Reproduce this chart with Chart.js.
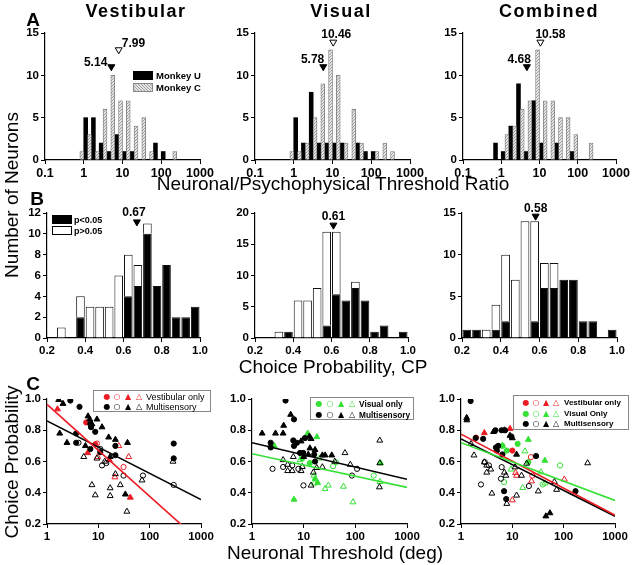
<!DOCTYPE html>
<html>
<head>
<meta charset="utf-8">
<script src="https://cdn.jsdelivr.net/npm/chart.js@4.4.1/dist/chart.umd.min.js"></script>
<style>
  body { margin: 0; background: #fff; }
  #fig { position: relative; width: 640px; height: 565px; overflow: hidden; font-family: "Liberation Sans", Arial, sans-serif; color: #000; }
  #fig canvas { position: absolute; }
  .tx { position: absolute; white-space: nowrap; transform: translate(-50%, -50%); line-height: 1; }
  .lt { position: absolute; white-space: nowrap; transform: translateY(-50%); line-height: 1; }
  .sw { position: absolute; box-sizing: border-box; }
</style>
</head>
<body>
<div id="fig"></div>
<script>
// ---- A: neuronal / psychophysical threshold ratio ----
const ratioBins = [0.63, 1, 1.58, 2.51, 3.98, 6.31, 10, 15.8, 25.1, 39.8, 63.1, 100, 158, 251, 398];
const ratioTicks = [0.1, 1, 10, 100, 1000];
const countTicksA = [0, 5, 10, 15];
const vestMonkeyU = [0, 5, 5, 2, 1, 3, 1, 1, 0, 0, 2, 1, 0, 0, 0];
const vestMonkeyC = [0, 1, 3, 1, 6, 10, 7, 7, 4, 5, 1, 0, 0, 1, 0];
const visMonkeyU  = [0, 5, 2, 8, 2, 2, 2, 2, 0, 2, 1, 1, 0, 0, 0];
const visMonkeyC  = [0, 1, 1, 2, 5, 9, 13, 10, 2, 6, 2, 0, 1, 2, 1];
const combMonkeyU = [2, 1, 4, 9, 1, 7, 2, 0, 2, 0, 1, 0, 0, 0, 0];
const combMonkeyC = [0, 0, 3, 4, 6, 7, 13, 7, 7, 5, 5, 3, 0, 2, 0];
const medianU = [5.14, 5.78, 4.68];
const medianC = [7.99, 10.46, 10.58];

// ---- B: choice probability ----
const cpBins = [0.225, 0.275, 0.325, 0.375, 0.425, 0.475, 0.525, 0.575, 0.625, 0.675, 0.725, 0.775, 0.825, 0.875, 0.925, 0.975];
const cpTicks = [0.2, 0.4, 0.6, 0.8, 1.0];
const vestSig    = [0, 0, 0, 2, 0, 0, 0, 0, 4, 5, 10, 5, 7, 2, 2, 3];
const vestNonSig = [0, 1, 0, 2, 3, 3, 3, 6, 4, 2, 1, 0, 0, 0, 0, 0];
const visSig     = [0, 0, 0, 1, 0, 0, 0, 2, 7, 6, 8, 6, 1, 2, 0, 1];
const visNonSig  = [0, 0, 1, 0, 6, 6, 8, 15, 10, 0, 1, 0, 0, 0, 0, 0];
const combSig    = [1, 1, 0, 1, 2, 0, 0, 2, 6, 6, 7, 7, 2, 2, 0, 1];
const combNonSig = [0, 0, 1, 3, 8, 7, 14, 12, 3, 3, 0, 0, 0, 0, 0, 0];
const medianCP = [0.67, 0.61, 0.58];

// ---- C: CP vs neuronal threshold, [threshold deg, CP, marker] ----
// marker: fc filled circle, oc open circle, ft filled triangle, ot open triangle
const threshTicks = [1, 10, 100, 1000];
const probTicks = [0.2, 0.4, 0.6, 0.8, 1.0];
const c1Vestibular = [
  [5.8, 0.85, 'fc'], [8.7, 0.71, 'fc'], [9.4, 0.715, 'oc'], [31, 0.565, 'oc'],
  [1.6, 0.935, 'ft'], [6.2, 0.655, 'ft'], [16.4, 0.61, 'ft'], [42, 0.37, 'ft'],
  [9.7, 0.63, 'ot'], [25, 0.70, 'ot'], [39, 0.63, 'ot'], [21, 0.50, 'ot']
];
const c1Multi = [
  [2.85, 0.99, 'fc'], [4.3, 0.95, 'fc'], [3.7, 0.78, 'fc'], [3.7, 0.72, 'fc'], [7.0, 0.84, 'fc'], [7.2, 0.82, 'fc'],
  [8.7, 0.79, 'fc'], [7.0, 0.68, 'fc'], [10.9, 0.66, 'fc'], [21.5, 0.64, 'fc'], [21.5, 0.70, 'fc'], [294, 0.715, 'fc'], [294, 0.62, 'fc'],
  [1.69, 0.995, 'ft'], [2.05, 0.97, 'ft'], [1.77, 0.78, 'ft'], [2.45, 0.72, 'ft'], [6.3, 0.89, 'ft'], [6.8, 0.87, 'ft'],
  [9.4, 0.87, 'ft'], [7.5, 0.84, 'ft'], [11.8, 0.82, 'ft'], [15.9, 0.755, 'ft'], [21.5, 0.74, 'ft'], [37, 0.72, 'ft'],
  [33.6, 0.39, 'ft'], [17, 0.63, 'ft'], [5.6, 0.70, 'ft'],
  [4.1, 0.72, 'oc'], [10.9, 0.68, 'oc'], [14.3, 0.59, 'oc'], [11.8, 0.575, 'oc'], [31, 0.51, 'oc'], [74, 0.51, 'oc'], [294, 0.45, 'oc'],
  [5.2, 0.63, 'ot'], [7.5, 0.45, 'ot'], [8.7, 0.385, 'ot'], [17, 0.43, 'ot'], [17, 0.38, 'ot'], [21.5, 0.52, 'ot'],
  [26.8, 0.45, 'ot'], [36, 0.28, 'ot'], [71, 0.48, 'ot'], [285, 0.60, 'ot'], [9.4, 0.62, 'ot'], [13.3, 0.60, 'ot']
];
const c2Visual = [
  [9.4, 0.62, 'fc'], [13.2, 0.59, 'fc'], [42.5, 0.595, 'oc'], [227, 0.51, 'oc'], [37, 0.57, 'oc'],
  [2.7, 0.70, 'ft'], [12, 0.78, 'ft'], [18, 0.757, 'ft'], [6.5, 0.357, 'ft'], [16.6, 0.49, 'ft'], [18.7, 0.464, 'ft'], [309, 0.59, 'ft'],
  [8.5, 0.61, 'ot'], [16, 0.46, 'ot'], [26, 0.425, 'ot'], [30, 0.447, 'ot'], [59, 0.44, 'ot'], [90, 0.34, 'ot'],
  [15.9, 0.51, 'ot'], [20, 0.62, 'ot'], [300, 0.47, 'ot']
];
const c2Multi = [
  [4.46, 0.99, 'fc'], [2.3, 0.72, 'fc'], [2.3, 0.69, 'fc'], [6.5, 0.87, 'fc'], [6.3, 0.735, 'fc'], [6.5, 0.70, 'fc'],
  [10.6, 0.75, 'fc'], [8.5, 0.655, 'fc'], [9.8, 0.655, 'fc'], [16.6, 0.60, 'fc'], [16, 0.645, 'fc'], [7.4, 0.72, 'fc'],
  [1.57, 0.78, 'ft'], [2.85, 0.78, 'ft'], [4.1, 0.83, 'ft'], [4.0, 0.78, 'ft'], [5.6, 0.90, 'ft'], [8.9, 0.73, 'ft'],
  [12.9, 0.76, 'ft'], [13.9, 0.745, 'ft'], [13.2, 0.685, 'ft'], [16.6, 0.675, 'ft'], [23, 0.64, 'ft'], [26, 0.64, 'ft'],
  [35, 0.64, 'ft'], [12.3, 0.645, 'ft'], [10, 0.63, 'ft'],
  [2.5, 0.553, 'oc'], [4.0, 0.565, 'oc'], [6.0, 0.575, 'oc'], [7.9, 0.553, 'oc'], [9.9, 0.447, 'oc'], [86, 0.51, 'oc'], [108, 0.553, 'oc'],
  [4.0, 0.61, 'ot'], [4.9, 0.58, 'ot'], [4.9, 0.54, 'ot'], [6.0, 0.54, 'ot'], [6.3, 0.63, 'ot'], [8.9, 0.54, 'ot'],
  [9.4, 0.566, 'ot'], [13.9, 0.447, 'ot'], [15.4, 0.53, 'ot'], [17.9, 0.56, 'ot'], [23, 0.564, 'ot'], [40, 0.60, 'ot'],
  [63, 0.655, 'ot'], [80, 0.58, 'ot'], [297, 0.735, 'ot'], [297, 0.59, 'ot'], [293, 0.436, 'ot']
];
const c3Vestibular = [
  [1.96, 0.753, 'fc'], [10, 0.67, 'fc'], [23, 0.628, 'oc'], [24.5, 0.51, 'oc'],
  [2.85, 0.783, 'ft'], [9, 0.81, 'ft'],
  [10, 0.353, 'ot'], [11.6, 0.528, 'ot'], [12.1, 0.51, 'ot'], [23.7, 0.474, 'ot'], [103, 0.485, 'ot']
];
const c3Visual = [
  [7.8, 0.67, 'fc'], [12.7, 0.713, 'fc'], [20.5, 0.596, 'fc'], [6.4, 0.70, 'fc'],
  [6.9, 0.468, 'oc'], [39, 0.453, 'oc'], [85, 0.575, 'oc'],
  [6.4, 0.702, 'ft'], [20.5, 0.74, 'ft'], [43, 0.606, 'ft'],
  [9.4, 0.55, 'ot'], [15.9, 0.432, 'ot'], [17.6, 0.666, 'ot'], [36, 0.532, 'ot'], [43, 0.46, 'ot']
];
const c3Multi = [
  [1.54, 0.987, 'fc'], [1.93, 0.75, 'fc'], [2.7, 0.745, 'fc'], [4.7, 0.80, 'fc'], [6.2, 0.80, 'fc'], [7.2, 0.80, 'fc'],
  [4.8, 0.69, 'fc'], [5.3, 0.70, 'fc'], [6.9, 0.41, 'fc'], [7.6, 0.36, 'fc'], [9.6, 0.76, 'fc'], [29, 0.635, 'fc'],
  [170, 0.41, 'fc'], [6.4, 0.645, 'fc'], [5.0, 0.67, 'fc'],
  [1.29, 0.88, 'ft'], [1.3, 0.865, 'ft'], [4.3, 0.79, 'ft'], [9.0, 0.766, 'ft'], [10, 0.75, 'ft'], [12.1, 0.645, 'ft'],
  [45, 0.25, 'ft'], [54, 0.27, 'ft'], [7.0, 0.80, 'ft'],
  [2.45, 0.453, 'oc'], [2.9, 0.596, 'oc'], [3.5, 0.575, 'oc'], [6.2, 0.564, 'oc'], [6.0, 0.49, 'oc'], [21, 0.443, 'oc'],
  [1.57, 0.713, 'ot'], [1.79, 0.64, 'ot'], [2.85, 0.596, 'ot'], [3.17, 0.575, 'ot'], [3.17, 0.53, 'ot'], [3.8, 0.55, 'ot'],
  [4.0, 0.396, 'ot'], [7.0, 0.53, 'ot'], [7.5, 0.51, 'ot'], [7.8, 0.33, 'ot'], [11.3, 0.564, 'ot'], [12.1, 0.383, 'ot'],
  [15.1, 0.51, 'ot'], [19, 0.587, 'ot'], [32, 0.41, 'ot'], [66, 0.47, 'ot'], [73, 0.42, 'ot'], [293, 0.59, 'ot']
];
// regression lines: [CP at 1 deg, slope per decade]
const fitC1Vest = [0.965, -0.294];
const fitC1Multi = [0.86, -0.168];
const fitC2Multi = [0.72, -0.078];
const fitC2Vis = [0.65, -0.072];
const fitC3Vest = [0.775, -0.173];
const fitC3Multi = [0.745, -0.165];
const fitC3Vis = [0.72, -0.123];

const RED = '#ec1c24', GREEN = '#36e036', BLACK = '#000';
const YW = 40, PR = 18, PT = 14, XH = 20;
const fig = document.getElementById('fig');

function place(box) {
  const c = document.createElement('canvas');
  const w = box.r - box.l + YW + PR, h = box.b - box.t + PT + XH;
  c.width = w; c.height = h;
  c.style.left = (box.l - YW) + 'px';
  c.style.top = (box.t - PT) + 'px';
  c.style.width = w + 'px'; c.style.height = h + 'px';
  fig.appendChild(c);
  return c;
}

function axis(dir, min, max, fixed, fmt, size, extra) {
  return Object.assign({
    type: 'linear', min: min, max: max, offset: false,
    grid: { drawOnChartArea: false, drawTicks: true, tickLength: 4, color: '#000', offset: false },
    border: { display: true, color: '#000', width: 1.2 },
    ticks: { color: '#000', font: { family: 'Liberation Sans', weight: 'bold', size: size }, padding: 2,
             maxRotation: 0, autoSkip: false, callback: fmt },
    afterBuildTicks: s => { s.ticks = fixed.map(v => ({ value: v })); },
    afterFit: dir === 'x' ? (s => { s.height = XH; }) : (s => { s.width = YW; })
  }, extra || {});
}

function baseOptions(scales) {
  return {
    responsive: false, animation: false, devicePixelRatio: 1,
    layout: { padding: { top: PT, right: PR, left: 0, bottom: 0 } },
    plugins: { legend: { display: false }, tooltip: { enabled: false } },
    scales: scales
  };
}

// median triangles with labels
function markPlugin(marks) {
  return {
    id: 'marks',
    afterDatasetsDraw(chart) {
      const ctx = chart.ctx, xs = chart.scales.x, ys = chart.scales.y;
      ctx.save();
      marks.forEach(m => {
        const x = xs.getPixelForValue(m.x), y = ys.getPixelForValue(m.y);
        ctx.beginPath();
        ctx.moveTo(x - 3.5, y - 3); ctx.lineTo(x + 3.5, y - 3); ctx.lineTo(x, y + 3); ctx.closePath();
        ctx.lineWidth = 1; ctx.strokeStyle = '#000';
        ctx.fillStyle = m.fill ? '#000' : '#fff';
        ctx.fill(); ctx.stroke();
        ctx.font = 'bold 12px "Liberation Sans"';
        ctx.fillStyle = '#000';
        ctx.textAlign = m.align; ctx.textBaseline = 'middle';
        ctx.fillText(m.label, x + m.dx, y + m.dy);
      });
      ctx.restore();
    }
  };
}

function hatchPattern() {
  const p = document.createElement('canvas');
  p.width = 3; p.height = 3;
  const g = p.getContext('2d');
  g.fillStyle = '#e4e4e4'; g.fillRect(0, 0, 3, 3);
  g.fillStyle = '#a0a0a0';
  g.fillRect(0, 2, 1, 1); g.fillRect(1, 1, 1, 1); g.fillRect(2, 0, 1, 1);
  return g.createPattern(p, 'repeat');
}
const hatch = hatchPattern();

function histA(box, monkeyU, monkeyC, mU, mC, marks) {
  const toPts = arr => ratioBins.map((b, i) => ({ x: Math.log10(b), y: arr[i] || null }));
  new Chart(place(box), {
    type: 'bar',
    data: { datasets: [
      { label: 'Monkey C', data: toPts(monkeyC), backgroundColor: hatch, borderColor: '#777', borderWidth: 0.8, barThickness: 3.9 },
      { label: 'Monkey U', data: toPts(monkeyU), backgroundColor: '#000', borderWidth: 0, barThickness: 3.9 }
    ] },
    options: baseOptions({
      x: axis('x', -1, 3, ratioTicks.map(Math.log10), (v, i) => String(ratioTicks[i]), 12.5),
      y: axis('y', 0, 15, countTicksA, v => String(v), 11.5)
    }),
    plugins: [markPlugin([
      Object.assign({ x: Math.log10(mU), label: mU.toFixed(2), fill: true }, marks[0]),
      Object.assign({ x: Math.log10(mC), label: mC.toFixed(2), fill: false }, marks[1])
    ])]
  });
}

function histB(box, sig, nonSig, yMax, yTicks, med, mark) {
  const toPts = arr => cpBins.map((b, i) => ({ x: b, y: arr[i] || null }));
  const ds = (arr, fill) => ({ data: toPts(arr), backgroundColor: fill, borderColor: '#111', borderWidth: 1,
    barPercentage: 0.9, categoryPercentage: 1, stack: 's' });
  new Chart(place(box), {
    type: 'bar',
    data: { datasets: [ds(sig, '#000'), ds(nonSig, '#fff')] },
    options: baseOptions({
      x: axis('x', 0.2, 1.0, cpTicks, v => v.toFixed(1), 11.5, { stacked: true }),
      y: axis('y', 0, yMax, yTicks, v => String(v), 11.5, { stacked: true })
    }),
    plugins: [markPlugin([Object.assign({ x: med, label: med.toFixed(2), fill: true, align: 'center' }, mark)])]
  });
}

function scatterC(box, groups, fits) {
  const datasets = [];
  fits.forEach(f => {
    datasets.push({ type: 'line', data: [{ x: 0, y: f[0][0] }, { x: 3, y: f[0][0] + 3 * f[0][1] }],
      borderColor: f[1], borderWidth: 1.6, pointRadius: 0, showLine: true, order: 0 });
  });
  groups.forEach(g => {
    const col = g[1];
    datasets.push({
      type: 'scatter', order: 1,
      data: g[0].map(p => ({ x: Math.log10(p[0]), y: p[1], m: p[2] })),
      pointStyle: c => (c.raw && c.raw.m[1] === 't') ? 'triangle' : 'circle',
      pointRadius: c => (c.raw && c.raw.m[1] === 't') ? 3.4 : 2.6,
      backgroundColor: c => (c.raw && c.raw.m[0] === 'o') ? 'rgba(0,0,0,0)' : col,
      borderColor: col, borderWidth: 1
    });
  });
  new Chart(place(box), {
    type: 'scatter',
    data: { datasets: datasets },
    options: baseOptions({
      x: axis('x', 0, 3, threshTicks.map(Math.log10), (v, i) => String(threshTicks[i]), 11.5),
      y: axis('y', 0.2, 1.0, probTicks, v => v.toFixed(1), 11.5)
    })
  });
}

// ---- panels ----
const boxA = [{ l: 45, r: 200 }, { l: 255, r: 410 }, { l: 463, r: 616 }].map(b => Object.assign({ t: 33, b: 160 }, b));
const boxB = [{ l: 47, r: 200 }, { l: 255, r: 408 }, { l: 462, r: 617 }].map(b => Object.assign({ t: 213, b: 338 }, b));
const boxC = [{ l: 47, r: 201 }, { l: 252, r: 407 }, { l: 461, r: 615 }].map(b => Object.assign({ t: 399, b: 524 }, b));

histA(boxA[0], vestMonkeyU, vestMonkeyC, medianU[0], medianC[0],
  [{ y: 10.9, dx: -4, dy: -5, align: 'right' }, { y: 12.9, dx: 3, dy: -7, align: 'left' }]);
histA(boxA[1], visMonkeyU, visMonkeyC, medianU[1], medianC[1],
  [{ y: 10.9, dx: 1, dy: -8, align: 'right' }, { y: 13.8, dx: 3, dy: -8, align: 'center' }]);
histA(boxA[2], combMonkeyU, combMonkeyC, medianU[2], medianC[2],
  [{ y: 10.9, dx: 4, dy: -8, align: 'right' }, { y: 13.8, dx: 10, dy: -8, align: 'center' }]);

histB(boxB[0], vestSig, vestNonSig, 12, [0, 2, 4, 6, 8, 10, 12], medianCP[0], { y: 11.05, dx: -3, dy: -10 });
histB(boxB[1], visSig, visNonSig, 20, [0, 5, 10, 15, 20], medianCP[1], { y: 17.9, dx: 0, dy: -9 });
histB(boxB[2], combSig, combNonSig, 15, [0, 5, 10, 15], medianCP[2], { y: 14.5, dx: 0, dy: -8 });

scatterC(boxC[0], [[c1Multi, BLACK], [c1Vestibular, RED]], [[fitC1Vest, RED], [fitC1Multi, BLACK]]);
scatterC(boxC[1], [[c2Multi, BLACK], [c2Visual, GREEN]], [[fitC2Vis, GREEN], [fitC2Multi, BLACK]]);
scatterC(boxC[2], [[c3Multi, BLACK], [c3Vestibular, RED], [c3Visual, GREEN]], [[fitC3Vis, GREEN], [fitC3Vest, RED], [fitC3Multi, BLACK]]);

// ---- text and legends ----
function put(cls, str, x, y, css) {
  const d = document.createElement('div');
  d.className = cls; d.textContent = str;
  d.style.left = x + 'px'; d.style.top = y + 'px';
  Object.assign(d.style, css || {});
  fig.appendChild(d);
  return d;
}
function swatch(x, y, w, h, css) {
  const d = document.createElement('div');
  d.className = 'sw';
  Object.assign(d.style, { left: x + 'px', top: y + 'px', width: w + 'px', height: h + 'px' }, css);
  fig.appendChild(d);
}

const titleCss = { fontSize: '18px', fontWeight: 'bold', letterSpacing: '1.5px' };
put('tx', 'Vestibular', 136, 11, titleCss);
put('tx', 'Visual', 341, 11, titleCss);
put('tx', 'Combined', 549, 11, titleCss);

const letterCss = { fontSize: '19px', fontWeight: 'bold' };
put('tx', 'A', 33, 19, letterCss);
put('tx', 'B', 37, 198, letterCss);
put('tx', 'C', 33, 383, letterCss);

const labCss = { fontSize: '19px' };
put('tx', 'Neuronal/Psychophysical Threshold Ratio', 333, 183, labCss);
put('tx', 'Choice Probability, CP', 333, 366, labCss);
put('tx', 'Neuronal Threshold (deg)', 335, 552, labCss);
put('tx', 'Number of Neurons', 11, 195, Object.assign({ transform: 'translate(-50%, -50%) rotate(-90deg)' }, labCss));
put('tx', 'Choice Probability', 11, 462, Object.assign({ transform: 'translate(-50%, -50%) rotate(-90deg)' }, labCss));

// legend A
const smallBold = { fontSize: '9.5px', fontWeight: 'bold' };
swatch(133, 71, 20, 9, { background: '#000' });
put('lt', 'Monkey U', 156, 76, smallBold);
swatch(133, 83, 20, 9, { background: 'repeating-linear-gradient(45deg, #e4e4e4 0 1.4px, #a0a0a0 1.4px 2.1px)', border: '1px solid #888' });
put('lt', 'Monkey C', 156, 88, smallBold);

// legend B
swatch(52, 215, 20, 9, { background: '#000', border: '1px solid #000' });
put('lt', 'p<0.05', 74, 219.5, { fontSize: '9px', fontWeight: 'bold' });
swatch(52, 226, 20, 9, { background: '#fff', border: '1px solid #000' });
put('lt', 'p>0.05', 74, 230.5, { fontSize: '9px', fontWeight: 'bold' });

// legends C
const glyphs = ['\u25CF', '\u25CB', '\u25B2', '\u25B3'];
function legendC(x, y, w, h, symX, textX, rows, css) {
  swatch(x, y, w, h, { border: '1px solid #888', background: 'rgba(255,255,255,0)' });
  rows.forEach(r => {
    glyphs.forEach((g, i) => put('tx', g, x + symX[i], r[2], { fontSize: '8px', color: r[1], fontFamily: '"DejaVu Sans"' }));
    put('lt', r[0], x + textX, r[2], css);
  });
}
legendC(93, 390, 118, 22, [14, 24, 35, 46], 53,
  [['Vestibular only', RED, 397], ['Multisensory', BLACK, 407]], { fontSize: '9px' });
legendC(310, 397, 104, 23, [9, 20, 31, 42], 49,
  [['Visual only', GREEN, 404], ['Multisensory', BLACK, 415]], { fontSize: '8.3px', fontWeight: 'bold' });
legendC(513, 395, 116, 35, [13, 23, 33, 43], 51,
  [['Vestibular only', RED, 403], ['Visual Only', GREEN, 413.5], ['Multisensory', BLACK, 424]], { fontSize: '8px', fontWeight: 'bold' });
</script>
</body>
</html>
